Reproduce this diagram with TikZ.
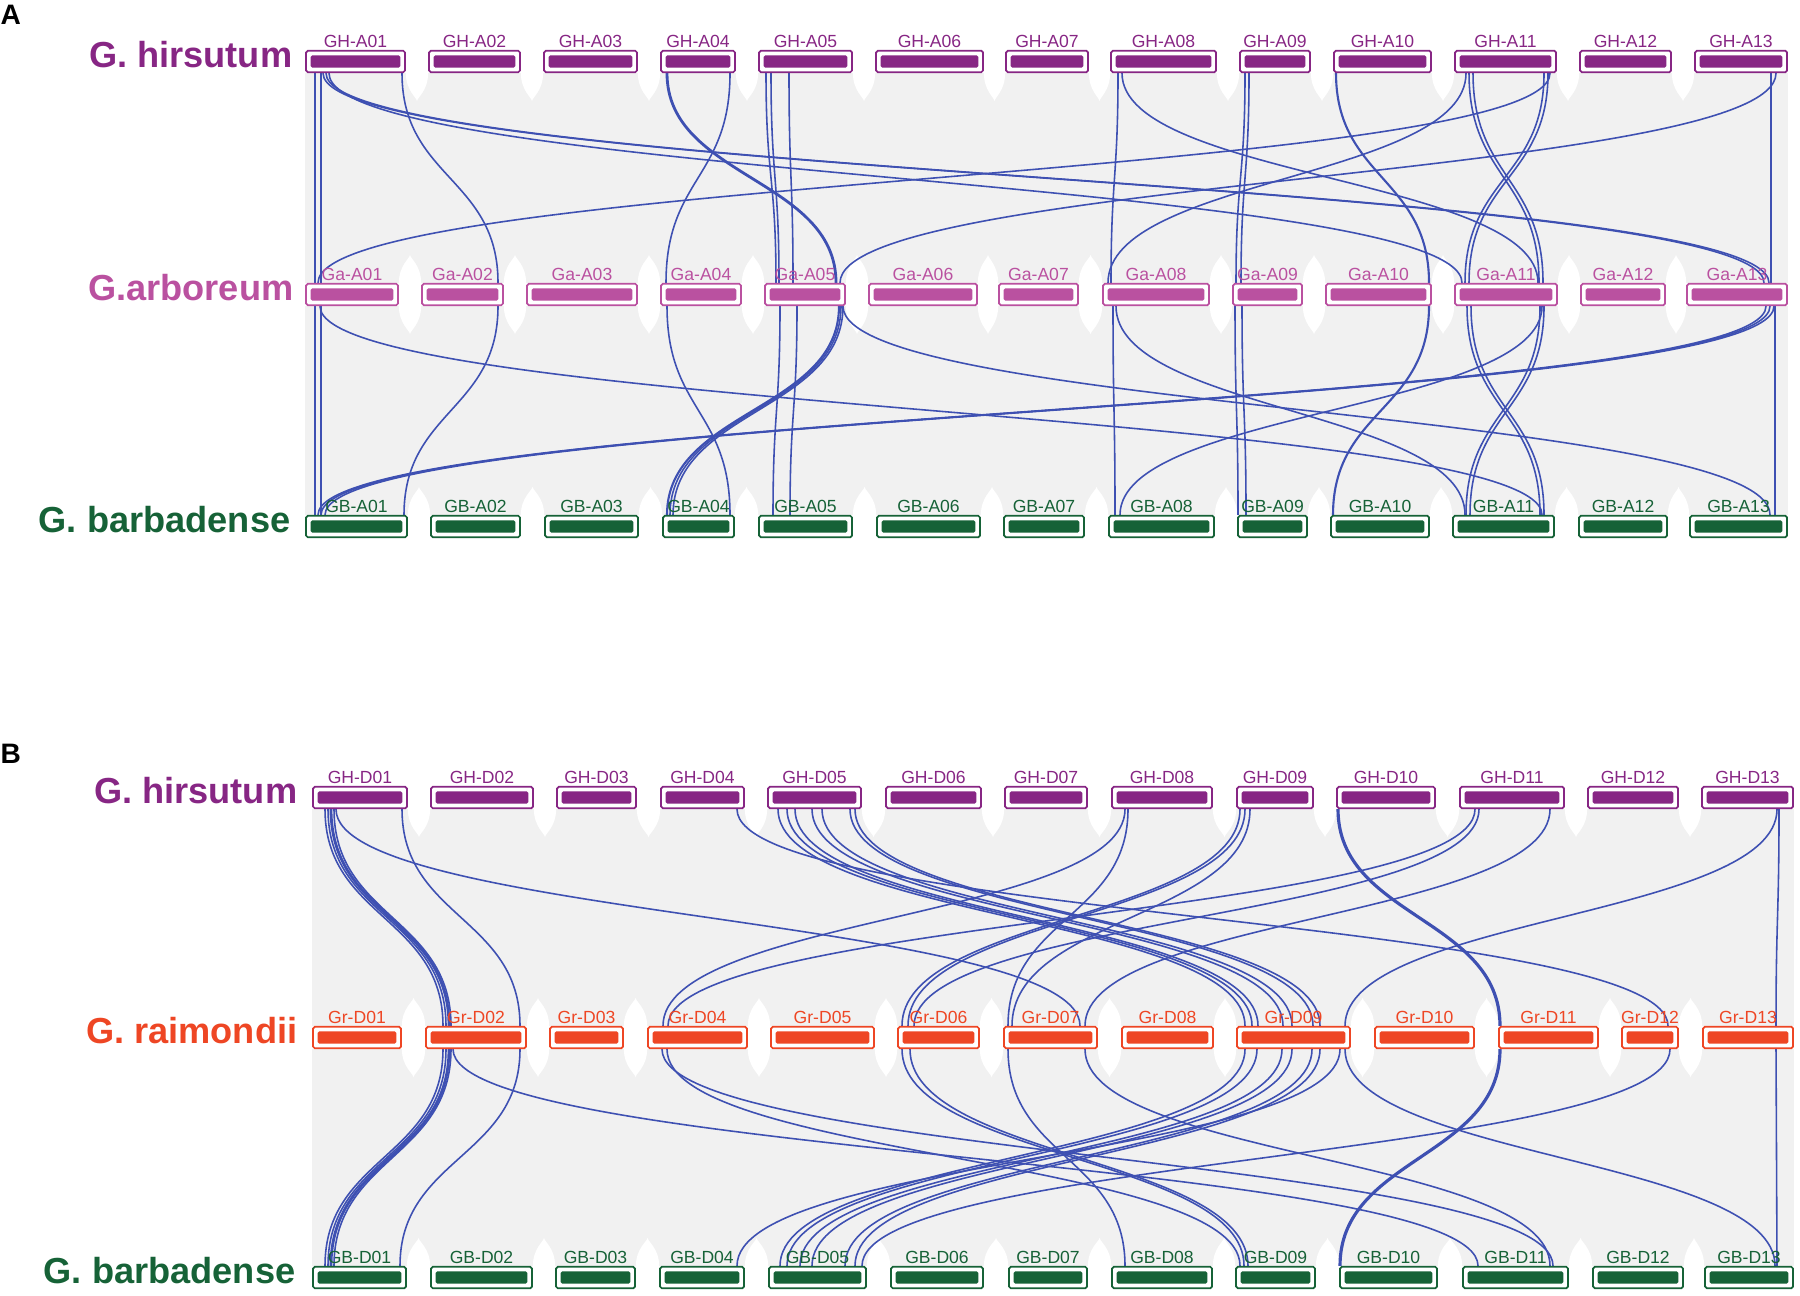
\documentclass[tikz,border=0pt]{standalone}
\usepackage{fontspec}
\setmainfont{Liberation Sans}
\usetikzlibrary{positioning,calc}
\definecolor{ghcol}{RGB}{135,38,132}
\definecolor{gacol}{RGB}{186,81,160}
\definecolor{grcol}{RGB}{238,70,36}
\definecolor{gbcol}{RGB}{22,98,55}
\definecolor{lnkcol}{RGB}{62,80,178}
\definecolor{synbg}{RGB}{241,241,241}
\pgfdeclarelayer{bg}
\pgfdeclarelayer{lnk}
\pgfsetlayers{bg,lnk,main}
\tikzset{
  chr/.style={draw=#1, fill=white, line width=0.5pt, rounded corners=0.5pt,
    minimum height=2.15mm, inner sep=0pt,
    path picture={\fill[#1] ([shift={(1.3pt,1.3pt)}]path picture bounding box.south west)
      rectangle ([shift={(-1.3pt,-1.3pt)}]path picture bounding box.north east);}},
  lab/.style={text=#1, font=\fontsize{5}{6}\selectfont, inner sep=0pt},
  spec/.style={text=#1, font=\fontsize{10.3}{12}\selectfont\bfseries, inner sep=0pt, anchor=base east},
  panel/.style={font=\fontsize{8}{9}\selectfont\bfseries, inner sep=0pt, anchor=base west},
  link/.style={draw=lnkcol},
}
\begin{document}
\begin{tikzpicture}[x=0.1mm, y=-0.1mm]
\useasboundingbox (0,0) rectangle (1800,1295);

% panel A
\node[panel] (pA) at (0,25) {A};
\node[spec=ghcol] (spHA) at (293,68) {G. hirsutum};
\node[spec=gacol] (spGA) at (294,300) {G.arboreum};
\node[spec=gbcol] (spBA) at (291,532) {G. barbadense};

\foreach \k/\xa/\xb [count=\i] in {01/306/405,02/429/520,03/544/637,04/661/735,05/759/852,06/876/983,
    07/1006/1088,08/1111/1216,09/1240/1310,10/1334/1431,11/1455/1556,12/1580/1671,13/1695/1787}{
  \node[chr=ghcol, minimum width={(\xb-\xa)*0.1mm}] (hA\i) at ({(\xa+\xb)/2},61.5) {};
  \node[lab=ghcol, above=0.2mm of hA\i, anchor=base] (thA\i) {GH-A\k};
}
\foreach \k/\xa/\xb [count=\i] in {01/306/398,02/422/503,03/527/637,04/661/741,05/765/845,06/869/977,
    07/999/1078,08/1103/1209,09/1233/1302,10/1326/1431,11/1455/1557,12/1581/1665,13/1687/1787}{
  \node[chr=gacol, minimum width={(\xb-\xa)*0.1mm}] (aA\i) at ({(\xa+\xb)/2},294.5) {};
  \node[lab=gacol, above=0.2mm of aA\i, anchor=base] (taA\i) {Ga-A\k};
}
\foreach \k/\xa/\xb [count=\i] in {01/306/407,02/431/520,03/545/638,04/663/734,05/759/852,06/877/980,
    07/1004/1084,08/1109/1214,09/1238/1307,10/1331/1429,11/1453/1554,12/1579/1667,13/1690/1787}{
  \node[chr=gbcol, minimum width={(\xb-\xa)*0.1mm}] (bA\i) at ({(\xa+\xb)/2},526.5) {};
  \node[lab=gbcol, above=0.2mm of bA\i, anchor=base] (tbA\i) {GB-A\k};
}

% panel B
\node[panel] (pB) at (0,763) {B};
\node[spec=ghcol] (spHD) at (298,803) {G. hirsutum};
\node[spec=grcol] (spRD) at (298,1043) {G. raimondii};
\node[spec=gbcol] (spBD) at (296,1283) {G. barbadense};

\foreach \k/\xa/\xb [count=\i] in {01/313/407,02/431/533,03/557/636,04/661/744,05/768/861,06/886/981,
    07/1005/1087,08/1112/1212,09/1237/1313,10/1337/1435,11/1460/1564,12/1588/1678,13/1702/1793}{
  \node[chr=ghcol, minimum width={(\xb-\xa)*0.1mm}] (hD\i) at ({(\xa+\xb)/2},797.5) {};
  \node[lab=ghcol, above=0.2mm of hD\i, anchor=base] (thD\i) {GH-D\k};
}
\foreach \k/\xa/\xb [count=\i] in {01/313/401,02/426/526,03/550/623,04/648/747,05/771/874,06/898/979,
    07/1004/1097,08/1122/1213,09/1237/1350,10/1375/1474,11/1499/1598,12/1622/1678,13/1703/1793}{
  \node[chr=grcol, minimum width={(\xb-\xa)*0.1mm}] (rD\i) at ({(\xa+\xb)/2},1037.5) {};
  \node[lab=grcol, above=0.2mm of rD\i, anchor=base] (trD\i) {Gr-D\k};
}
\foreach \k/\xa/\xb [count=\i] in {01/313/406,02/431/532,03/556/635,04/660/744,05/769/866,06/891/983,
    07/1009/1087,08/1112/1212,09/1236/1315,10/1340/1437,11/1463/1568,12/1593/1683,13/1705/1793}{
  \node[chr=gbcol, minimum width={(\xb-\xa)*0.1mm}] (bD\i) at ({(\xa+\xb)/2},1277.5) {};
  \node[lab=gbcol, above=0.2mm of bD\i, anchor=base] (tbD\i) {GB-D\k};
}

% grey ribbons with white gaps between chromosomes
\begin{pgfonlayer}{bg}
\fill[synbg] (hA1.south west) rectangle (aA13.north east);
\fill[synbg] (aA1.south west) rectangle (bA13.north east);
\fill[synbg] (hD1.south west) rectangle (rD13.north east);
\fill[synbg] (rD1.south west) rectangle (bD13.north east);
\foreach \r in {hA,aA,bA,hD,rD,bD}{
  \foreach \i [evaluate=\i as \j using int(\i+1)] in {1,...,12}{
    \fill[white] let \p1=(\r\i.north east), \p2=(\r\j.south west) in
      (\x1,\y1) .. controls (\x1,{\y1+5pt}) and ({(\x1+\x2)/2},{\y1+7pt}) .. ({(\x1+\x2)/2},{\y1+8pt})
      .. controls ({(\x1+\x2)/2},{\y1+7pt}) and (\x2,{\y1+5pt}) .. (\x2,\y1) -- (\x2,\y2)
      .. controls (\x2,{\y2-5pt}) and ({(\x1+\x2)/2},{\y2-7pt}) .. ({(\x1+\x2)/2},{\y2-8pt})
      .. controls ({(\x1+\x2)/2},{\y2-7pt}) and (\x1,{\y2-5pt}) .. (\x1,\y2) -- cycle;
  }
}
\end{pgfonlayer}

% collinear links
\begin{pgfonlayer}{lnk}
\foreach \src/\xs/\dst/\xd/\lw in {
    hA1/315/aA1/315/.45, hA1/321/aA1/321/.45, hA1/323/aA13/1764/.45, hA1/326/aA13/1769/.45,
    hA1/329/aA11/1462/.45, hA1/402/aA2/498/.45, hA4/667/aA5/836/.8, hA4/730/aA4/666/.45,
    hA5/766/aA5/776/.45, hA5/771/aA5/779/.45, hA5/789/aA5/793/.45, hA8/1118/aA8/1111/.45,
    hA8/1122/aA11/1538/.45, hA9/1245/aA9/1236/.45, hA9/1249/aA9/1241/.45, hA10/1336/aA10/1429/.6,
    hA11/1466/aA8/1108/.45, hA11/1469/aA11/1539/.45, hA11/1473/aA11/1543/.45, hA11/1544/aA11/1465/.45,
    hA11/1548/aA11/1469/.45, hA11/1550/aA1/318/.45, hA13/1776/aA5/840/.45, hA13/1771/aA13/1771/.45,
    aA1/315/bA1/315/.45, aA1/321/bA1/321/.45, aA1/320/bA11/1542/.45, aA2/498/bA1/404/.45,
    aA13/1766/bA1/318/.45, aA13/1770/bA1/321/.45, aA13/1774/bA1/325/.45, aA4/667/bA4/730/.45,
    aA5/839/bA4/667/.6, aA5/841/bA4/670/.45, aA5/843/bA4/673/.45, aA5/780/bA5/773/.45,
    aA5/797/bA5/790/.45, aA5/843/bA13/1770/.45, aA8/1113/bA8/1115/.45, aA8/1116/bA11/1465/.45,
    aA9/1235/bA9/1238/.45, aA9/1242/bA9/1246/.45, aA10/1429/bA10/1333/.6, aA11/1467/bA11/1540/.45,
    aA11/1471/bA11/1544/.45, aA11/1540/bA11/1466/.45, aA11/1544/bA11/1470/.45, aA11/1542/bA8/1120/.45,
    aA13/1775/bA13/1775/.45,
    hD1/325/rD2/443/.45, hD1/328/rD2/446/.45, hD1/331/rD2/449/.8, hD1/334/rD2/451/.45,
    hD1/402/rD2/520/.45, hD1/336/rD7/1080/.45, hD4/737/rD12/1668/.45, hD5/778/rD9/1245/.45,
    hD5/787/rD9/1252/.45, hD5/795/rD9/1258/.45, hD5/812/rD9/1283/.45, hD5/822/rD9/1292/.45,
    hD5/850/rD9/1313/.45, hD5/855/rD9/1320/.45, hD8/1125/rD4/663/.45, hD8/1128/rD7/1008/.45,
    hD9/1240/rD6/902/.45, hD9/1245/rD6/908/.45, hD9/1250/rD7/1012/.45, hD10/1338/rD11/1500/.9,
    hD11/1475/rD4/668/.45, hD11/1479/rD6/914/.45, hD11/1550/rD7/1085/.45, hD13/1777/rD9/1345/.45,
    hD13/1779/rD13/1776/.45,
    rD2/443/bD1/325/.45, rD2/446/bD1/328/.45, rD2/449/bD1/331/.8, rD2/451/bD1/334/.45,
    rD2/520/bD1/400/.45, rD2/453/bD11/1478/.45, rD4/662/bD11/1553/.45, rD4/667/bD9/1240/.45,
    rD6/902/bD9/1244/.45, rD6/910/bD9/1248/.45, rD7/1008/bD8/1125/.45, rD7/1085/bD11/1550/.45,
    rD9/1245/bD5/780/.45, rD9/1257/bD5/787/.45, rD9/1282/bD5/800/.45, rD9/1292/bD5/812/.45,
    rD9/1312/bD5/845/.45, rD9/1320/bD5/855/.45, rD9/1340/bD4/737/.45, rD9/1345/bD13/1775/.45,
    rD11/1500/bD10/1340/.9, rD12/1670/bD5/862/.45, rD13/1776/bD13/1777/.45}{
  \draw[link, line width=\lw pt] (\xs,0 |- \src.south)
    .. controls ($(\xs,0 |- \src.south)!.5!(\xs,0 |- \dst.north)$)
    and ($(\xd,0 |- \src.south)!.5!(\xd,0 |- \dst.north)$) .. (\xd,0 |- \dst.north);
}
\end{pgfonlayer}
\end{tikzpicture}
\end{document}
